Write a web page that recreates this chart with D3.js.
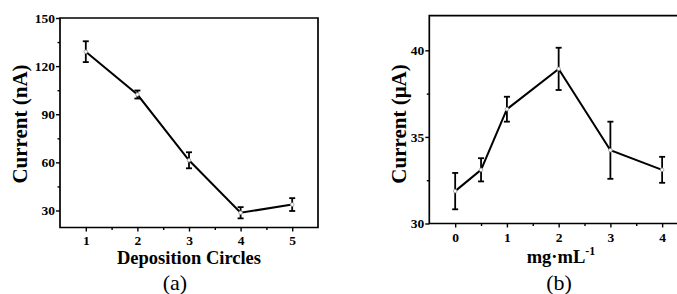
<!DOCTYPE html>
<html><head><meta charset="utf-8">
<script src="https://cdn.jsdelivr.net/npm/d3@7"></script>
<style>
body{margin:0;background:#fff;}
svg text{font-family:"Liberation Serif","Times New Roman",serif;fill:#000;}
</style></head>
<body><svg id="c" width="677" height="294"></svg>
<script>
// Panel (a)
const aX = [1, 2, 3, 4, 5];
const aY = [129, 102.3, 61.3, 28.6, 33.7];
const aErr = [6.5, 2.5, 5, 3.5, 4];
const aYTicks = [30, 60, 90, 120, 150];
const aXTicks = [1, 2, 3, 4, 5];
// Panel (b)
const bX = [0, 0.5, 1, 2, 3, 4];
const bY = [31.87, 33.1, 36.6, 38.93, 34.23, 33.1];
const bErr = [1.05, 0.67, 0.72, 1.22, 1.65, 0.75];
const bYTicks = [30, 35, 40];
const bXTicks = [0, 1, 2, 3, 4];

const svg = d3.select("#c");

function panel(o){
  const g = svg.append("g");
  const x = d3.scaleLinear().domain(o.xd).range([o.l, o.r]);
  const y = d3.scaleLinear().domain(o.yd).range([o.b, o.t]);
  g.append("path").attr("d",`M${o.l},${o.b}V${o.t}H${o.r}V${o.b}Z`).attr("fill","none").attr("stroke","#000").attr("stroke-width",1.7);
  const yAx = g.append("g").attr("transform",`translate(${o.l},0)`)
    .call(d3.axisLeft(y).tickValues(o.yt).tickSize(4).tickPadding(1).tickFormat(d3.format("d")));
  const yMin = g.append("g").attr("transform",`translate(${o.l},0)`)
    .call(d3.axisLeft(y).tickValues(o.ym).tickSize(2.5).tickFormat(""));
  const xAx = g.append("g").attr("transform",`translate(0,${o.b})`)
    .call(d3.axisBottom(x).tickValues(o.xt).tickSize(4).tickPadding(o.xpad).tickFormat(d3.format("d")));
  const xMin = g.append("g").attr("transform",`translate(0,${o.b})`)
    .call(d3.axisBottom(x).tickValues(o.xm).tickSize(2.5).tickFormat(""));
  [yAx,yMin,xAx,xMin].forEach(a=>{
    a.select(".domain").remove();
    a.selectAll("line").attr("stroke","#000").attr("stroke-width",1.4);
    a.selectAll("text").attr("font-size",13.5).attr("font-weight","bold").attr("font-family","Liberation Serif, Times New Roman, serif");
  });
  const eb = g.append("g").attr("stroke","#000").attr("stroke-width",1.8);
  o.xs.forEach((xv,i)=>{
    const cx = x(xv), y1 = y(o.ys[i]+o.es[i]), y2 = y(o.ys[i]-o.es[i]);
    eb.append("line").attr("x1",cx).attr("x2",cx).attr("y1",y1).attr("y2",y2);
    eb.append("line").attr("x1",cx-3).attr("x2",cx+3).attr("y1",y1).attr("y2",y1);
    eb.append("line").attr("x1",cx-3).attr("x2",cx+3).attr("y1",y2).attr("y2",y2);
  });
  g.append("path").datum(o.xs.map((v,i)=>[v,o.ys[i]]))
    .attr("d", d3.line().x(d=>x(d[0])).y(d=>y(d[1])))
    .attr("fill","none").attr("stroke","#000").attr("stroke-width",2);
  g.selectAll("circle.m").data(o.xs).enter().append("circle")
    .attr("cx",(d)=>x(d)).attr("cy",(d,i)=>y(o.ys[i])).attr("r",1.8)
    .attr("fill","#fff").attr("stroke","#999").attr("stroke-width",0.8);
  return {g,x,y};
}

panel({l:60,r:318,t:18,b:227.5,xd:[0.5,5.5],yd:[19.4,150],xpad:3.5,
  xt:aXTicks,xm:[1.5,2.5,3.5,4.5],yt:aYTicks,ym:[45,75,105,135],xs:aX,ys:aY,es:aErr});
panel({l:429.3,r:688,t:15.7,b:223.5,xd:[-0.5,4.5],yd:[30,42],xpad:5,
  xt:bXTicks,xm:[0.5,1.5,2.5,3.5],yt:bYTicks,ym:[32.5,37.5],xs:bX,ys:bY,es:bErr});

svg.append("text").attr("transform","translate(27,124) rotate(-90)").attr("text-anchor","middle")
  .attr("font-size",21).attr("font-weight","bold").text("Current (nA)");
svg.append("text").attr("x",189).attr("y",264).attr("text-anchor","middle")
  .attr("font-size",18.5).attr("font-weight","bold").text("Deposition Circles");
svg.append("text").attr("x",175).attr("y",290).attr("text-anchor","middle")
  .attr("font-size",22).text("(a)");

svg.append("text").attr("transform","translate(406,124) rotate(-90)").attr("text-anchor","middle")
  .attr("font-size",21).attr("font-weight","bold").text("Current (μA)");
const ml = svg.append("text").attr("x",561).attr("y",263).attr("text-anchor","middle")
  .attr("font-size",18.5).attr("font-weight","bold");
ml.append("tspan").text("mg·mL");
ml.append("tspan").attr("font-size",12).attr("dy",-8).text("-1");
svg.append("text").attr("x",559).attr("y",290).attr("text-anchor","middle")
  .attr("font-size",22).text("(b)");
</script></body></html>
